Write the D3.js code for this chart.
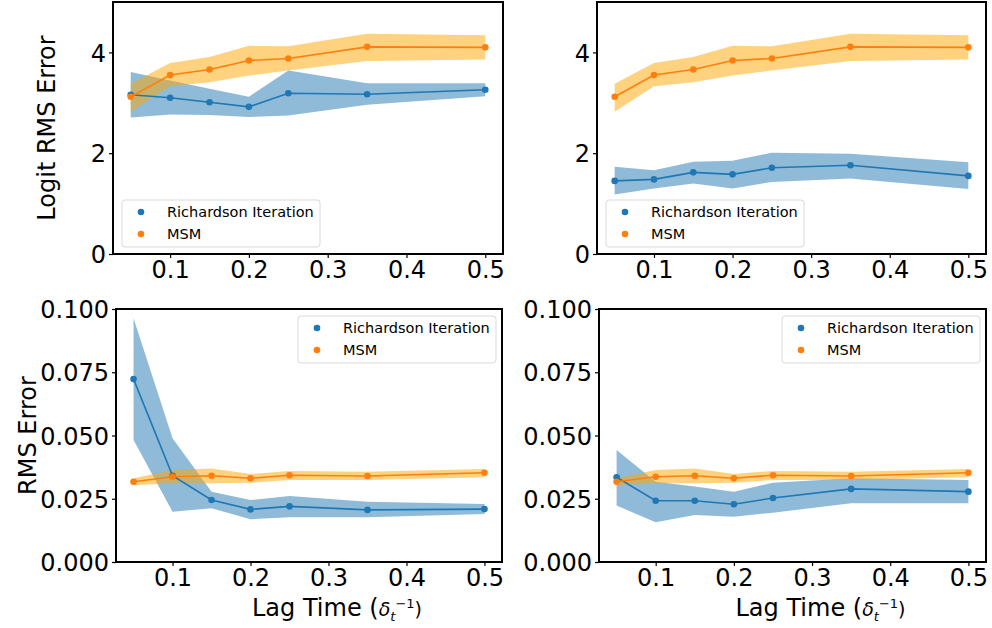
<!DOCTYPE html>
<html><head><meta charset="utf-8">
<script src="https://cdn.jsdelivr.net/npm/d3@7"></script>
<style>
html,body{margin:0;padding:0;background:#fff;}
svg{display:block;font-family:"DejaVu Sans",sans-serif;}
</style></head>
<body>
<svg id="chart" width="992" height="628"></svg>
<script>
// ---- data ----
const lagTimes = [0.05, 0.1, 0.15, 0.2, 0.25, 0.35, 0.5];
const xTicks = [0.1, 0.2, 0.3, 0.4, 0.5];
const logitTicks = [0, 2, 4];
const rmsTicks = [0, 0.025, 0.05, 0.075, 0.1];
const seriesNames = ["Richardson Iteration", "MSM"];

// top-left (logit)
const logitRichA    = [3.16, 3.10, 3.01, 2.92, 3.19, 3.17, 3.26];
const logitRichALo  = [2.71, 2.77, 2.76, 2.72, 2.75, 2.96, 3.13];
const logitRichAHi  = [3.61, 3.44, 3.28, 3.12, 3.64, 3.39, 3.39];
// top-right (logit)
const logitRichB    = [1.45, 1.48, 1.62, 1.58, 1.71, 1.76, 1.55];
const logitRichBLo  = [1.18, 1.30, 1.40, 1.30, 1.43, 1.50, 1.29];
const logitRichBHi  = [1.73, 1.66, 1.83, 1.85, 2.01, 1.99, 1.82];
// MSM (logit, both top panels)
const logitMSM      = [3.12, 3.55, 3.66, 3.84, 3.88, 4.11, 4.10];
const logitMSMLo    = [2.82, 3.33, 3.41, 3.54, 3.64, 3.83, 3.86];
const logitMSMHi    = [3.38, 3.79, 3.91, 4.13, 4.12, 4.37, 4.34];

// bottom-left (RMS)
const rmsRichA      = [0.0723, 0.0341, 0.0245, 0.0208, 0.0220, 0.0206, 0.0209];
const rmsRichALo    = [0.0482, 0.0199, 0.0212, 0.0169, 0.0177, 0.0177, 0.0190];
const rmsRichAHi    = [0.0963, 0.0489, 0.0278, 0.0245, 0.0261, 0.0238, 0.0229];
// bottom-right (RMS)
const rmsRichB      = [0.0335, 0.0242, 0.0242, 0.0228, 0.0253, 0.0289, 0.0278];
const rmsRichBLo    = [0.0223, 0.0157, 0.0186, 0.0179, 0.0195, 0.0232, 0.0232];
const rmsRichBHi    = [0.0443, 0.0317, 0.0298, 0.0278, 0.0313, 0.0331, 0.0324];
// MSM (RMS, both bottom panels)
const rmsMSM        = [0.0317, 0.0337, 0.0341, 0.0331, 0.0343, 0.0340, 0.0353];
const rmsMSMLo      = [0.0303, 0.0311, 0.0311, 0.0313, 0.0324, 0.0324, 0.0335];
const rmsMSMHi      = [0.0331, 0.0364, 0.0370, 0.0348, 0.0360, 0.0357, 0.0368];

// ---- layout ----
const BLUE = "#1f77b4", ORANGE = "#ff7f0e";
const BLUE_FILL = "#1f77b4", ORANGE_FILL = "#ffa500";
const panels = [
  {x0:113, x1:503, y0:2,   y1:254, dom:[0,5],   ticks:logitTicks, fmt:d3.format("d"),
   rich:[logitRichA, logitRichALo, logitRichAHi], msm:[logitMSM, logitMSMLo, logitMSMHi],
   legend:[122,200], ylabel:"Logit RMS Error", ylx:47},
  {x0:597, x1:986, y0:2,   y1:254, dom:[0,5],   ticks:logitTicks, fmt:d3.format("d"),
   rich:[logitRichB, logitRichBLo, logitRichBHi], msm:[logitMSM, logitMSMLo, logitMSMHi],
   legend:[606,200]},
  {x0:116, x1:502, y0:309, y1:562, dom:[0,0.1], ticks:rmsTicks, fmt:d3.format(".3f"),
   rich:[rmsRichA, rmsRichALo, rmsRichAHi], msm:[rmsMSM, rmsMSMLo, rmsMSMHi],
   legend:[298,316], ylabel:"RMS Error", ylx:28, xlabel:true},
  {x0:599, x1:986, y0:309, y1:562, dom:[0,0.1], ticks:rmsTicks, fmt:d3.format(".3f"),
   rich:[rmsRichB, rmsRichBLo, rmsRichBHi], msm:[rmsMSM, rmsMSMLo, rmsMSMHi],
   legend:[782,316], xlabel:true}
];

const svg = d3.select("#chart");

panels.forEach(p => {
  const x = d3.scaleLinear().domain([0.0275, 0.5225]).range([p.x0, p.x1]);
  const y = d3.scaleLinear().domain(p.dom).range([p.y1, p.y0]);
  const g = svg.append("g");

  const area = (lo, hi) => d3.area().x((d,i)=>x(lagTimes[i])).y0((d,i)=>y(lo[i])).y1((d,i)=>y(hi[i]))(lagTimes);
  const line = vals => d3.line().x((d,i)=>x(lagTimes[i])).y((d,i)=>y(vals[i]))(lagTimes);

  // bands
  g.append("path").attr("d", area(p.rich[1], p.rich[2])).attr("fill", BLUE_FILL).attr("fill-opacity", 0.5);
  g.append("path").attr("d", area(p.msm[1], p.msm[2])).attr("fill", ORANGE_FILL).attr("fill-opacity", 0.5);
  // lines + points
  [[p.rich[0], BLUE], [p.msm[0], ORANGE]].forEach(([vals, col]) => {
    g.append("path").attr("d", line(vals)).attr("fill","none").attr("stroke", col).attr("stroke-width", 1.6);
    g.selectAll(null).data(vals).enter().append("circle")
      .attr("cx",(d,i)=>x(lagTimes[i])).attr("cy",d=>y(d)).attr("r",3.3).attr("fill",col);
  });

  // axes
  const xa = g.append("g").attr("transform", `translate(0,${p.y1})`)
    .call(d3.axisBottom(x).tickValues(xTicks).tickFormat(d3.format(".1f")).tickSize(4).tickPadding(3));
  const ya = g.append("g").attr("transform", `translate(${p.x0},0)`)
    .call(d3.axisLeft(y).tickValues(p.ticks).tickFormat(p.fmt).tickSize(4).tickPadding(3));
  [xa, ya].forEach(a => {
    a.select(".domain").remove();
    a.selectAll("line").attr("stroke","#000").attr("stroke-width",1.2);
    a.selectAll("text").attr("font-size", 24).attr("fill","#000").attr("font-family","DejaVu Sans");
  });
  ya.selectAll("text").attr("dy","0.36em");

  // frame
  g.append("rect").attr("x",p.x0).attr("y",p.y0).attr("width",p.x1-p.x0).attr("height",p.y1-p.y0)
    .attr("fill","none").attr("stroke","#000").attr("stroke-width",2);

  // legend
  const [lx, ly] = p.legend;
  const lg = g.append("g").attr("transform", `translate(${lx},${ly})`);
  lg.append("rect").attr("width",198).attr("height",47).attr("rx",3)
    .attr("fill","#fff").attr("fill-opacity",0.8).attr("stroke","#d9d9d9").attr("stroke-width",1);
  [[BLUE, seriesNames[0]], [ORANGE, seriesNames[1]]].forEach(([col, name], k) => {
    const cy = 12 + k*22;
    lg.append("circle").attr("cx",19).attr("cy",cy).attr("r",3.3).attr("fill",col);
    lg.append("text").attr("x",45).attr("y",cy).attr("dy","0.36em").attr("font-size",14.5).attr("fill","#000").text(name);
  });

  if (p.ylabel) {
    svg.append("text").attr("transform",`translate(${p.ylx},${(p.y0+p.y1)/2}) rotate(-90)`)
      .attr("text-anchor","middle").attr("dy","0.35em").attr("font-size",24).attr("fill","#000").text(p.ylabel);
  }
  if (p.xlabel) {
    const t = svg.append("text").attr("x",(p.x0+p.x1)/2 + 28).attr("y",616)
      .attr("text-anchor","middle").attr("font-size",24).attr("fill","#000");
    t.append("tspan").text("Lag Time (");
    t.append("tspan").attr("font-style","italic").attr("font-size",19).text("δ");
    t.append("tspan").attr("font-style","italic").attr("font-size",13).attr("dy",5).text("t");
    t.append("tspan").attr("font-size",13).attr("dy",-13).text("−1");
    t.append("tspan").attr("dy",8).attr("font-size",19).text(")");
  }
});
</script>
</body></html>
